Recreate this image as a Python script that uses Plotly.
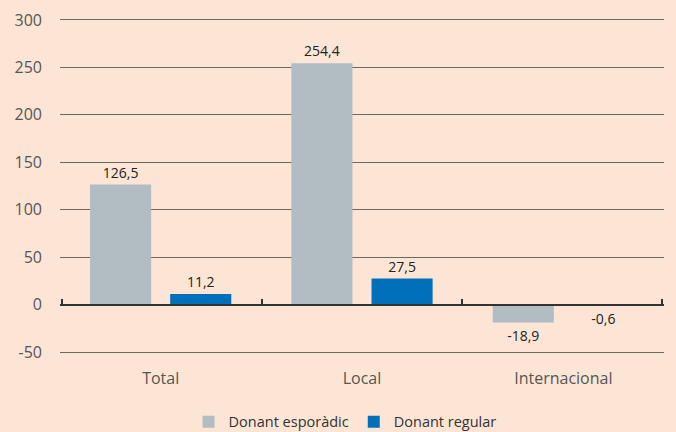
import plotly.graph_objects as go

categories = ["Total", "Local", "Internacional"]
esporadic = [126.5, 254.4, -18.9]
regular = [11.2, 27.5, -0.6]
series_names = ["Donant esporàdic", "Donant regular"]
series_colors = ["#B1BCC3", "#0070BA"]
y_ticks = [-50, 0, 50, 100, 150, 200, 250, 300]
y_ticktext = ["-50", "0", "50", "100", "150", "200", "250", "300"]

BG = "#FDE5D5"
FONT = "Open Sans, Noto Sans, sans-serif"
Y_RANGE = [-52, 302]


def fmt(v):
    return f"{v:.1f}".replace(".", ",")


fig = go.Figure()
for name, vals, col in zip(series_names, [esporadic, regular], series_colors):
    fig.add_trace(go.Bar(x=categories, y=vals, name=name, showlegend=False,
                         marker=dict(color=col, line=dict(width=0)),
                         text=[fmt(v) for v in vals],
                         textposition="outside", cliponaxis=False,
                         textfont=dict(size=14, color="#222222", family=FONT)))
# legend entries with larger square swatches
for name, col in zip(series_names, series_colors):
    fig.add_trace(go.Scatter(x=[None], y=[None], mode="markers", name=name,
                             marker=dict(symbol="square", size=15, color=col),
                             hoverinfo="skip"))
# invisible trace to carry the zero-level axis with boundary ticks
fig.add_trace(go.Scatter(x=categories, y=[0, 0, 0], xaxis="x2", mode="markers",
                         marker=dict(opacity=0), showlegend=False, hoverinfo="skip"))

fig.update_layout(
    width=676, height=432,
    paper_bgcolor=BG, plot_bgcolor=BG,
    margin=dict(l=60, r=12, t=18, b=78, autoexpand=False),
    barmode="group", bargap=0.204, bargroupgap=0.2375,
    separators=",.",
    font=dict(family=FONT, size=16, color="#555555"),
    showlegend=True,
    legend=dict(orientation="h", x=0.472, xanchor="center", y=-0.202, yanchor="middle",
                font=dict(size=14.5, color="#333333"), itemsizing="constant",
                traceorder="normal", itemwidth=30, bgcolor="rgba(0,0,0,0)"),
    xaxis=dict(showgrid=False, showline=False, zeroline=False, automargin=False,
               ticks="outside", ticklen=10, tickcolor="rgba(0,0,0,0)",
               tickfont=dict(size=16, color="#555555")),
    xaxis2=dict(overlaying="x", anchor="free", range=[-0.508, 2.508],
                position=(0 - Y_RANGE[0]) / (Y_RANGE[1] - Y_RANGE[0]),
                side="bottom", showline=True, linecolor="#333333", linewidth=1.5,
                ticks="inside", tickson="boundaries", ticklen=5, tickcolor="#333333",
                tickwidth=1.5, showticklabels=False, showgrid=False, zeroline=False,
                automargin=False),
    yaxis=dict(range=Y_RANGE, tickvals=y_ticks, ticktext=y_ticktext, showgrid=True,
               gridcolor="#6e6862", gridwidth=1, zeroline=False, showline=False,
               ticks="", ticklabelstandoff=17, automargin=False,
               tickfont=dict(size=16, color="#555555")),
)

fig.write_html("out.html", config={"displayModeBar": False},
               post_script="document.body.style.margin='0';"
                           "document.body.style.background='#FDE5D5';")
